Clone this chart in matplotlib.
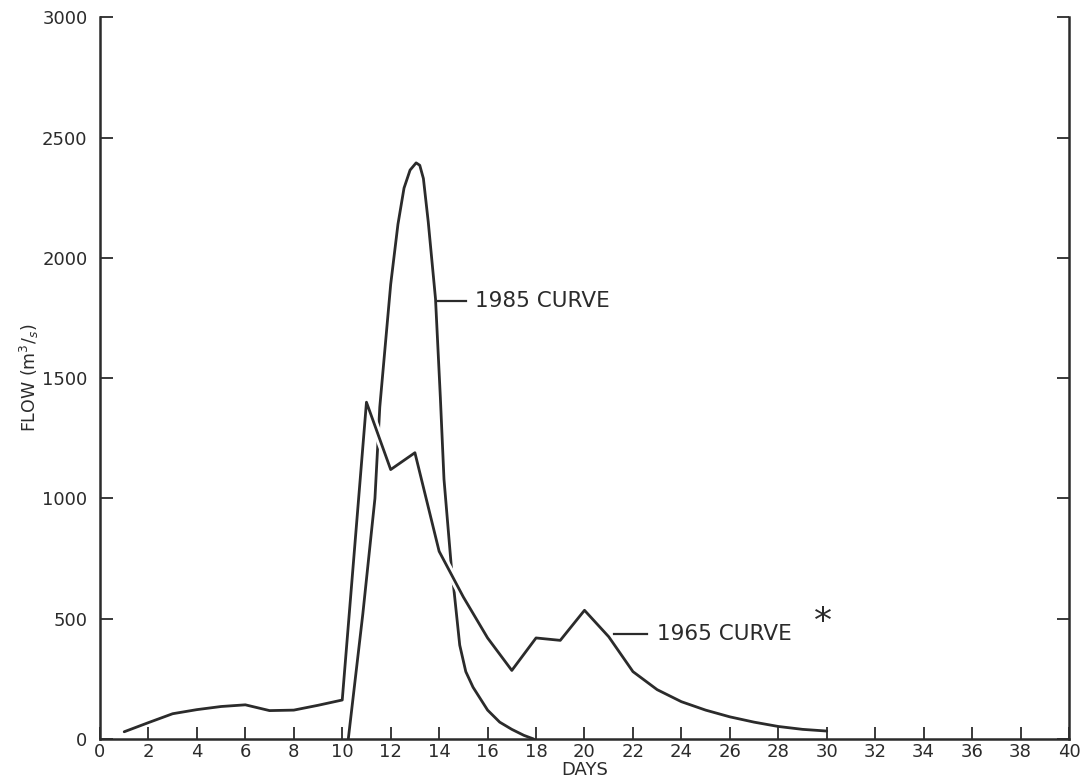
import numpy as np
import matplotlib
matplotlib.use("Agg")
from matplotlib import pyplot as plt
import matplotlib.patheffects as pe

# daily flow, 1965 flood
days_1965 = np.arange(1, 31)
flow_1965 = [30, 68, 105, 122, 135, 142, 118, 120, 140, 162,
             1400, 1120, 1190, 780, 590, 420, 285, 420, 410, 535,
             425, 280, 205, 155, 120, 92, 70, 52, 40, 33]

# design hydrograph, 1985
days_1985 = [10.25, 10.85, 11.35, 11.55, 12.0, 12.3, 12.55, 12.8, 13.05, 13.2,
             13.35, 13.55, 13.85, 14.05, 14.2, 14.5, 14.6, 14.85, 15.1, 15.4,
             16.0, 16.5, 17.0, 17.5, 17.9]
flow_1985 = [0, 520, 1000, 1380, 1890, 2140, 2290, 2365, 2395, 2385,
             2330, 2150, 1830, 1420, 1080, 720, 630, 390, 280, 215,
             120, 70, 40, 15, 0]

x_ticks = np.arange(0, 41, 2)
y_ticks = np.arange(0, 3001, 500)

ink = "#2b2b2b"
plt.rcParams["font.family"] = ["DejaVu Sans"]

fig = plt.figure(figsize=(10.82, 7.81), dpi=100)
ax = fig.add_axes([0.0924, 0.0538, 0.8956, 0.924])

ax.plot(days_1985, flow_1985, color=ink, lw=2.0, zorder=2,
        solid_joinstyle="round", solid_capstyle="round")
# white halo breaks the 1985 line where the 1965 line crosses it
ax.plot(days_1965, flow_1965, color=ink, lw=2.0, zorder=2.2,
        solid_joinstyle="round", solid_capstyle="round",
        path_effects=[pe.Stroke(linewidth=6, foreground="white"), pe.Normal()])

ax.set_xlim(0, 40)
ax.set_ylim(0, 3000)
ax.set_xticks(x_ticks)
ax.set_yticks(y_ticks)
ax.set_axisbelow(False)

ax.spines["top"].set_visible(False)
for s in ["left", "right", "bottom"]:
    ax.spines[s].set_linewidth(1.8)
    ax.spines[s].set_color(ink)

ax.tick_params(axis="x", direction="in", length=9, width=1.3, color=ink,
               labelsize=13, labelcolor=ink, pad=3)
ax.tick_params(axis="y", direction="in", length=9, width=1.3, color=ink,
               labelsize=13, labelcolor=ink, pad=9, right=True)

ax.set_xlabel("DAYS", fontsize=13, color=ink, labelpad=0)
ax.set_ylabel("FLOW (m$^3$/$_s$)", fontsize=12.5, color=ink, labelpad=1)

# curve labels with leader lines
ax.plot([13.95, 15.1], [1820, 1820], color=ink, lw=1.6)
ax.text(15.5, 1820, "1985 CURVE", fontsize=15.5, color=ink, va="center", ha="left")
ax.plot([21.2, 22.6], [438, 438], color=ink, lw=1.6)
ax.text(23.0, 438, "1965 CURVE", fontsize=15.5, color=ink, va="center", ha="left")
ax.text(29.85, 488, "*", fontsize=26, color=ink, va="center", ha="center")

fig.savefig("out.png", dpi=100, facecolor="white")
